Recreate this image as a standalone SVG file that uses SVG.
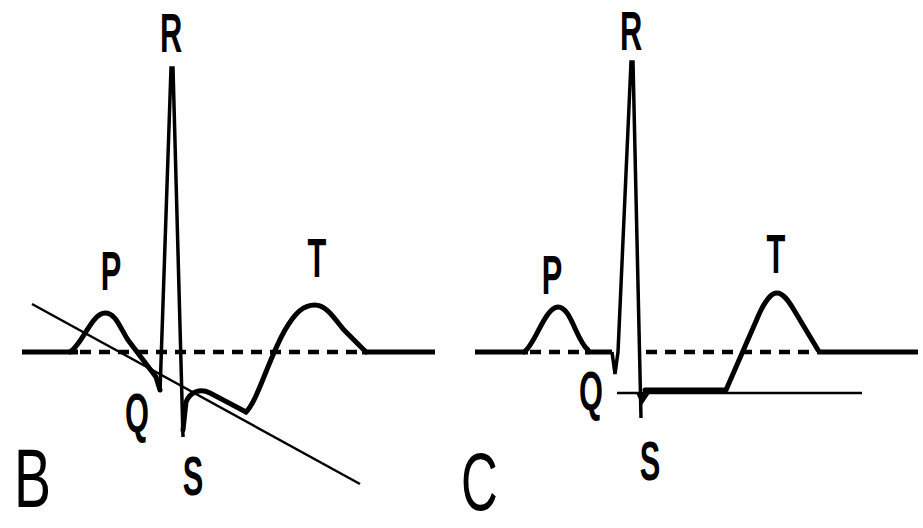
<svg xmlns="http://www.w3.org/2000/svg" width="923" height="528" viewBox="0 0 923 528">
<style>
.bg{fill:#fff}
.base{stroke:#000;stroke-width:5;fill:none}
.dash{stroke:#000;stroke-width:4.5;fill:none;stroke-dasharray:11 8}
.wave{stroke:#000;stroke-width:5;fill:none;stroke-linejoin:round;stroke-linecap:round}
.spike{stroke:#000;stroke-width:3.5;fill:none;stroke-linejoin:miter}
.thin{stroke:#000;stroke-width:2.5;fill:none}
.lbl{font-family:"Liberation Sans",Arial,sans-serif;font-weight:bold;font-size:56px;text-anchor:middle;fill:#000}
.big{font-family:"Liberation Sans",Arial,sans-serif;font-size:84px;fill:#000}
</style>
<rect class="bg" x="0" y="0" width="923" height="528"/>
<g id="panelB">
  <g id="B-traces">
    <path class="base" d="M22,352 H78"/>
    <path class="dash" d="M80,352 H362"/>
    <path class="base" d="M362,352 H435"/>
    <path class="thin" d="M32,304 L360,484"/>
    <path class="wave" d="M70,352 C82,345 92,313 105,313 C116,313 120,328 128,340 L156,377 L160,390"/>
    <path class="spike" d="M160,392 L171,68 L173,68 L183,437"/>
    <path class="wave" d="M183,430 L186,402 C190,392 200,388 210,393 L246,412"/>
    <path class="wave" d="M246,412 C258,400 268,360 285,330 C295,313 303,305 315,305 C326,305 334,318 344,330 L366,352"/>
  </g>
  <g id="B-labels">
    <text class="lbl" transform="translate(171,52) scale(0.55,1)">R</text>
    <text class="lbl" transform="translate(111,290) scale(0.55,1)">P</text>
    <text class="lbl" transform="translate(317,277) scale(0.55,1)">T</text>
    <text class="lbl" transform="translate(137,432) scale(0.55,1)">Q</text>
    <text class="lbl" transform="translate(193,495) scale(0.55,1)">S</text>
    <text class="big" transform="translate(14,507) scale(0.66,1)">B</text>
  </g>
</g>
<g id="panelC">
  <g id="C-traces">
    <path class="base" d="M475,352 H528"/>
    <path class="dash" d="M530,352 H590"/>
    <path class="base" d="M585,352 H612"/>
    <path class="dash" d="M646,352 H818"/>
    <path class="base" d="M818,352 H918"/>
    <path class="thin" d="M617,393 H862"/>
    <path class="wave" d="M524,352 C535,345 545,307 558,307 C571,307 576,340 588,350"/>
    <path class="spike" d="M612,352 L615,374 L618,352 L631,62 L633,62 L641,418"/>
    <path d="M636,393 L650,393 L642,405 Z" fill="#000"/>
    <path class="wave" d="M645,390 H726 L760,312 C766,300 771,293 777,293 C783,293 788,300 794,310 L818,350"/>
  </g>
  <g id="C-labels">
    <text class="lbl" transform="translate(631,50) scale(0.55,1)">R</text>
    <text class="lbl" transform="translate(552,294) scale(0.55,1)">P</text>
    <text class="lbl" transform="translate(776,273) scale(0.55,1)">T</text>
    <text class="lbl" transform="translate(591,410) scale(0.55,1)">Q</text>
    <text class="lbl" transform="translate(650,480) scale(0.55,1)">S</text>
    <text class="big" style="font-size:82px" transform="translate(461,510) scale(0.62,1)">C</text>
  </g>
</g>
</svg>
